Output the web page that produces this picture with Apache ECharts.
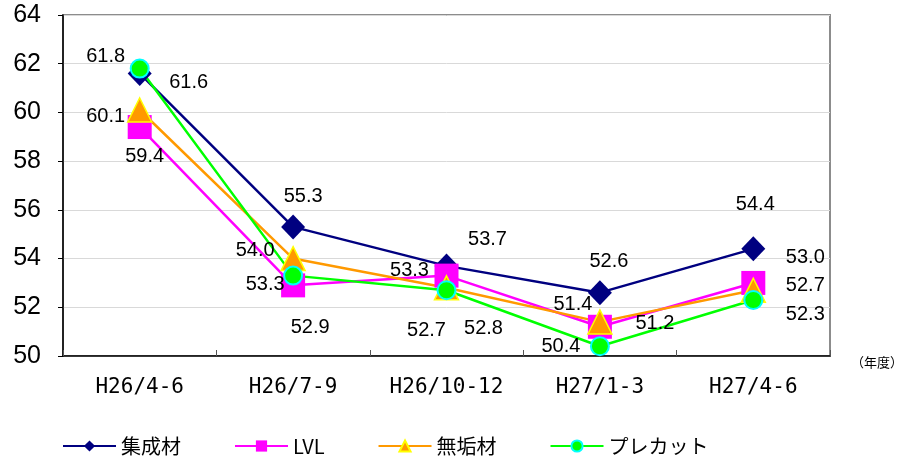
<!DOCTYPE html>
<html>
<head>
<meta charset="utf-8">
<script src="https://cdn.jsdelivr.net/npm/echarts@6/dist/echarts.min.js"></script>
<style>
  html, body { margin: 0; padding: 0; background: #fff; }
  #chart { width: 904px; height: 460px; }
</style>
</head>
<body>
<div id="chart"></div>
<script>
// Quarterly index values by material type
const categories = ['H26/4-6', 'H26/7-9', 'H26/10-12', 'H27/1-3', 'H27/4-6'];
const yTicks = [50, 52, 54, 56, 58, 60, 62, 64];
const seriesNames = ['集成材', 'LVL', '無垢材', 'プレカット'];
const glulam = [61.6, 55.3, 53.7, 52.6, 54.4];
const lvl = [59.4, 52.9, 53.3, 51.2, 53.0];
const solidWood = [60.1, 54.0, 52.8, 51.4, 52.7];
const precut = [61.8, 53.3, 52.7, 50.4, 52.3];

// Label placement offsets (px) relative to each marker, kept apart from the values
const glulamLabelOffsets = [[49, 9], [10, -30], [41, -26], [9, -31], [2, -44]];
const lvlLabelOffsets = [[5, 29], [17, 42], [-37, -5], [55, -3], [52, -25]];
const solidLabelOffsets = [[-34, 6], [-38, -8], [37, 41], [-27, -17], [52, -5]];
const precutLabelOffsets = [[-34, -12], [-28, 9], [-20, 40], [-39, 0], [52, 15]];

const labelFont = {
  show: true,
  position: 'inside',
  align: 'center',
  verticalAlign: 'middle',
  color: '#000',
  fontFamily: 'Liberation Sans, Arial, sans-serif',
  fontSize: 20,
  formatter: p => p.value.toFixed(1)
};

function buildData(values, offsets) {
  return values.map((v, i) => ({
    value: v,
    label: Object.assign({}, labelFont, { offset: offsets[i] })
  }));
}

const chart = echarts.init(document.getElementById('chart'), null, { renderer: 'canvas' });

chart.setOption({
  animation: false,
  backgroundColor: '#fff',
  grid: {
    left: 63, right: 74, top: 15, bottom: 104,
    show: true,
    borderColor: '#8c8c8c',
    borderWidth: 2,
    backgroundColor: 'transparent'
  },
  legend: {
    left: 62,
    top: 436,
    padding: 0,
    itemWidth: 53,
    itemHeight: 14,
    itemGap: 53,
    textStyle: {
      fontFamily: 'Noto Sans CJK JP, sans-serif',
      fontSize: 20,
      color: '#000'
    },
    data: seriesNames
  },
  xAxis: {
    type: 'category',
    data: categories,
    boundaryGap: true,
    axisLine: { lineStyle: { color: '#000', width: 1.5 } },
    axisTick: { show: true, inside: true, length: 6, lineStyle: { color: '#555' } },
    axisLabel: {
      margin: 21,
      color: '#000',
      fontFamily: 'DejaVu Sans Mono, monospace',
      fontSize: 21
    },
    splitLine: { show: false }
  },
  yAxis: {
    type: 'value',
    min: yTicks[0],
    max: yTicks[yTicks.length - 1],
    interval: 2,
    axisLine: { show: true, lineStyle: { color: '#000', width: 1.5 } },
    axisTick: { show: true, inside: false, length: 5, lineStyle: { color: '#000' } },
    axisLabel: {
      margin: 22,
      color: '#000',
      fontFamily: 'Liberation Sans, Arial, sans-serif',
      fontSize: 25
    },
    splitLine: { show: true, lineStyle: { color: '#d9d9d9', width: 1 } }
  },
  graphic: [{
    type: 'text',
    left: 851,
    top: 356,
    style: {
      text: '（年度）',
      fontFamily: 'Noto Sans CJK JP, sans-serif',
      fontSize: 13,
      fill: '#000'
    }
  }],
  series: [
    {
      name: seriesNames[0],
      type: 'line',
      data: buildData(glulam, glulamLabelOffsets),
      symbol: 'diamond',
      symbolSize: [24, 25],
      lineStyle: { color: '#000080', width: 2.5 },
      itemStyle: { color: '#000080', borderColor: '#000080', borderWidth: 0 }
    },
    {
      name: seriesNames[1],
      type: 'line',
      data: buildData(lvl, lvlLabelOffsets),
      symbol: 'rect',
      symbolSize: 24,
      lineStyle: { color: '#ff00ff', width: 2.5 },
      itemStyle: { color: '#ff00ff', borderColor: '#ff00ff', borderWidth: 0 }
    },
    {
      name: seriesNames[2],
      type: 'line',
      data: buildData(solidWood, solidLabelOffsets),
      symbol: 'triangle',
      symbolSize: [24, 24],
      lineStyle: { color: '#ff9900', width: 2.5 },
      itemStyle: { color: '#ff9900', borderColor: '#ffff00', borderWidth: 1.5 }
    },
    {
      name: seriesNames[3],
      type: 'line',
      data: buildData(precut, precutLabelOffsets),
      symbol: 'circle',
      symbolSize: 18,
      lineStyle: { color: '#00ff00', width: 2.5 },
      itemStyle: { color: '#00ff00', borderColor: '#00ffff', borderWidth: 2 }
    }
  ]
});
</script>
</body>
</html>
